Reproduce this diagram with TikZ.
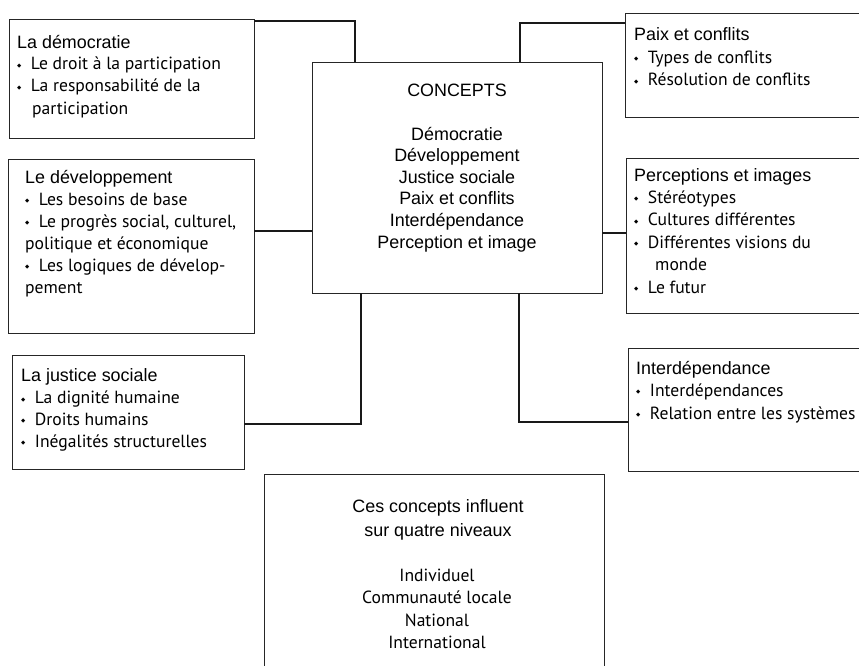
\documentclass[tikz,border=0pt]{standalone}
\usepackage{fontspec}
\setmainfont{Liberation Sans}
\newfontfamily\itemfont{PT Sans}
\newfontfamily\symfont{DejaVu Sans}
\newcommand\puce{{\symfont\fontsize{5.5}{5.5}\selectfont\raisebox{2.6pt}{◆}}\hspace{9.5pt}}
\newcommand\elem{\itemfont\fontsize{17.6}{17.6}\selectfont\puce}
\newcommand\suite{\itemfont\fontsize{17.6}{17.6}\selectfont}

\begin{document}
\begin{tikzpicture}[x=1pt,y=-1pt,
    boite/.style={draw=black!85,line width=0.8pt,inner sep=0pt},
    lien/.style={draw=black!90,line width=2pt},
    liste/.style={anchor=base west,align=left,inner sep=0pt,font=\fontsize{17.9}{22}\selectfont},
    milieu/.style={anchor=base,align=center,inner sep=0pt,font=\fontsize{17.9}{21.6}\selectfont}]
    \useasboundingbox (0,0) rectangle (859,666);
    % boites
    \node[boite,minimum width=245,minimum height=119] (demo) at (131.5,78.5) {};
    \node[boite,minimum width=246,minimum height=174] (dev) at (131,246) {};
    \node[boite,minimum width=232,minimum height=114] (justice) at (128,412) {};
    \node[boite,minimum width=290,minimum height=231] (concepts) at (457,177.5) {};
    \node[boite,minimum width=241,minimum height=104] (paix) at (745.5,65) {};
    \node[boite,minimum width=240,minimum height=155] (perc) at (746,235.5) {};
    \node[boite,minimum width=238,minimum height=123] (interdep) at (747,409.5) {};
    \node[boite,minimum width=340,minimum height=198] (niveaux) at (434,573) {};
    % textes (ancrés sur la derniere ligne)
    \node[liste] (demo-t) at (17,114) {La démocratie\\
        \elem Le droit à la participation\\
        \elem La responsabilité de la\\
        \suite\hspace{15pt}participation};
    \node[liste] (dev-t) at (25,293) {Le développement\\
        \elem Les besoins de base\\
        \elem Le progrès social, culturel,\\
        \suite politique et économique\\
        \elem Les logiques de dévelop-\\
        \suite pement};
    \node[liste,font=\fontsize{17.9}{21.7}\selectfont] (justice-t) at (21,447) {La justice sociale\\
        \elem La dignité humaine\\
        \elem Droits humains\\
        \elem Inégalités structurelles};
    \node[liste,font=\fontsize{17.9}{22.5}\selectfont] (paix-t) at (634,86) {Paix et conflits\\
        \elem Types de conflits\\
        \elem Résolution de conflits};
    \node[liste,font=\fontsize{17.9}{22.4}\selectfont] (perc-t) at (634,293) {Perceptions et images\\
        \elem Stéréotypes\\
        \elem Cultures différentes\\
        \elem Différentes visions du\\
        \suite\hspace{21pt}monde\\
        \elem Le futur};
    \node[liste,font=\fontsize{17.9}{22.5}\selectfont] (interdep-t) at (636,419) {Interdépendance\\
        \elem Interdépendances\\
        \elem Relation entre les systèmes};
    \node[milieu] (concepts-t) at (457,248) {CONCEPTS\\[21.6pt]
        Démocratie\\ Développement\\ Justice sociale\\
        Paix et conflits\\ Interdépendance\\ Perception et image};
    \node[milieu,font=\fontsize{17.9}{24}\selectfont] (niveaux-t) at (438,536.7) {Ces concepts influent\\
        sur quatre niveaux};
    \node[milieu,font=\fontsize{17.6}{22.2}\selectfont\itemfont] (niveaux-l) at (437,648.3) {Individuel\\
        Communauté locale\\ National\\ International};
    % liens
    \draw[lien] ([yshift=-2.7pt]demo.north east) -| ([xshift=43pt]concepts.north west);
    \draw[lien] ([xshift=-82pt]concepts.north east) |- ([yshift=-10pt]paix.north west);
    \coordinate (dev-a) at ([yshift=15pt]dev.east);
    \draw[lien] (dev-a) -- (dev-a -| concepts.west);
    \coordinate (perc-a) at ([yshift=2.5pt]perc.west);
    \draw[lien] (perc-a) -- (perc-a -| concepts.east);
    \draw[lien] ([xshift=49pt]concepts.south west) |- ([yshift=-12pt]justice.east);
    \draw[lien] ([xshift=-83pt]concepts.south east) |- ([yshift=-12.5pt]interdep.west);
\end{tikzpicture}
\end{document}
